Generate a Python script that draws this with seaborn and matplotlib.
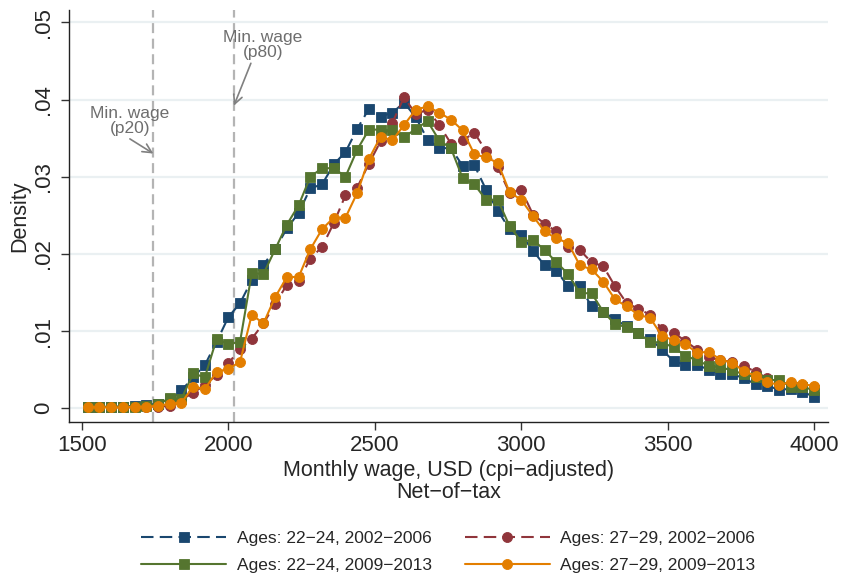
import numpy as np
import pandas as pd
import matplotlib
matplotlib.use('Agg')
import matplotlib.pyplot as plt
import seaborn as sns

# wage bins (USD, cpi-adjusted, net-of-tax)
wage = list(range(1520, 4001, 40))

# Ages 22-24, 2002-2006
young_early = [0.0002, 0.0002, 0.0002, 0.0002, 0.0003, 0.0004, 0.0006, 0.0012, 0.0023, 0.0040,
               0.0056, 0.0086, 0.0118, 0.0136, 0.0166, 0.0186, 0.0206, 0.0233, 0.0253, 0.0285,
               0.0290, 0.0316, 0.0332, 0.0362, 0.0388, 0.0378, 0.0383, 0.0396, 0.0377, 0.0348,
               0.0337, 0.0337, 0.0314, 0.0315, 0.0283, 0.0256, 0.0232, 0.0225, 0.0204, 0.0185,
               0.0178, 0.0158, 0.0158, 0.0132, 0.0125, 0.0115, 0.0106, 0.0098, 0.0090, 0.0076,
               0.0061, 0.0056, 0.0056, 0.0050, 0.0044, 0.0044, 0.0039, 0.0031, 0.0029, 0.0024,
               0.0025, 0.0021, 0.0015]

# Ages 27-29, 2002-2006
old_early = [0.0001, 0.0001, 0.0001, 0.0001, 0.0001, 0.0002, 0.0002, 0.0003, 0.0011, 0.0020,
             0.0030, 0.0043, 0.0058, 0.0077, 0.0090, 0.0110, 0.0135, 0.0160, 0.0165, 0.0194,
             0.0209, 0.0240, 0.0276, 0.0286, 0.0317, 0.0346, 0.0370, 0.0403, 0.0381, 0.0387,
             0.0367, 0.0343, 0.0347, 0.0357, 0.0333, 0.0312, 0.0279, 0.0283, 0.0251, 0.0239,
             0.0229, 0.0209, 0.0205, 0.0189, 0.0184, 0.0158, 0.0136, 0.0129, 0.0121, 0.0103,
             0.0098, 0.0087, 0.0076, 0.0066, 0.0062, 0.0060, 0.0055, 0.0047, 0.0039, 0.0033,
             0.0031, 0.0027, 0.0027]

# Ages 22-24, 2009-2013
young_late = [0.0002, 0.0002, 0.0002, 0.0002, 0.0002, 0.0003, 0.0005, 0.0013, 0.0012, 0.0045,
              0.0040, 0.0090, 0.0083, 0.0086, 0.0175, 0.0174, 0.0206, 0.0238, 0.0263, 0.0300,
              0.0311, 0.0311, 0.0300, 0.0335, 0.0361, 0.0361, 0.0360, 0.0351, 0.0362, 0.0372,
              0.0347, 0.0337, 0.0298, 0.0290, 0.0270, 0.0270, 0.0236, 0.0216, 0.0218, 0.0205,
              0.0189, 0.0174, 0.0149, 0.0149, 0.0125, 0.0109, 0.0105, 0.0097, 0.0086, 0.0085,
              0.0079, 0.0068, 0.0062, 0.0055, 0.0053, 0.0049, 0.0044, 0.0040, 0.0036, 0.0037,
              0.0028, 0.0027, 0.0024]

# Ages 27-29, 2009-2013
old_late = [0.0002, 0.0001, 0.0001, 0.0001, 0.0002, 0.0002, 0.0003, 0.0006, 0.0007, 0.0028,
            0.0025, 0.0047, 0.0051, 0.0060, 0.0121, 0.0110, 0.0144, 0.0170, 0.0170, 0.0206,
            0.0232, 0.0247, 0.0247, 0.0279, 0.0323, 0.0352, 0.0347, 0.0367, 0.0387, 0.0391,
            0.0383, 0.0374, 0.0360, 0.0329, 0.0325, 0.0318, 0.0280, 0.0270, 0.0249, 0.0229,
            0.0220, 0.0214, 0.0185, 0.0180, 0.0164, 0.0141, 0.0132, 0.0121, 0.0117, 0.0094,
            0.0088, 0.0083, 0.0072, 0.0073, 0.0063, 0.0059, 0.0048, 0.0042, 0.0034, 0.0030,
            0.0034, 0.0031, 0.0029]

labels = ['Ages: 22\u221224, 2002\u22122006', 'Ages: 27\u221229, 2002\u22122006',
          'Ages: 22\u221224, 2009\u22122013', 'Ages: 27\u221229, 2009\u22122013']
min_wage_p20 = 1743
min_wage_p80 = 2019

sns.set_style('ticks')
plt.rcParams['font.family'] = ['Liberation Sans', 'DejaVu Sans']

fig = plt.figure(figsize=(8.41, 5.76), dpi=100)
ax = fig.add_axes([0.082, 0.268, 0.9025, 0.7146])

# series: (values, colour, marker, dashed?)
series = [
    (young_early, '#1a476f', 's', True),
    (old_early, '#90353b', 'o', True),
    (young_late, '#55752f', 's', False),
    (old_late, '#e37e00', 'o', False),
]

handles = []
for (vals, col, mk, dashed), lab in zip(series, labels):
    df = pd.DataFrame({'wage': wage, 'density': vals})
    sns.lineplot(data=df, x='wage', y='density', ax=ax, color=col, marker=mk,
                 markersize=6.8 if mk == 's' else 7.2, markeredgecolor=col,
                 markeredgewidth=0.6, linewidth=1.5, errorbar=None,
                 linestyle=(0, (6, 3)) if dashed else '-', label=lab, legend=False)
    handles.append(ax.get_lines()[-1])

# minimum wage reference lines
for xv in [min_wage_p20, min_wage_p80]:
    ax.axvline(xv, color='#b4b4b4', linestyle=(0, (4.5, 2.5)), linewidth=1.6, zorder=1)

arrow = dict(arrowstyle='->', color='#808080', lw=1.2, shrinkA=0, shrinkB=0,
             mutation_scale=16)
ax.text(1664, 0.0372, 'Min. wage\n(p20)', ha='center', va='center', fontsize=12.5,
        color='#6e6e6e', linespacing=1.0)
ax.annotate('', xy=(1744, 0.0330), xytext=(1664, 0.0349), arrowprops=arrow)
ax.text(2118, 0.0471, 'Min. wage\n(p80)', ha='center', va='center', fontsize=12.5,
        color='#6e6e6e', linespacing=1.0)
ax.annotate('', xy=(2019, 0.0392), xytext=(2077, 0.0447), arrowprops=arrow)

ax.set_xlim(1456, 4047)
ax.set_ylim(-0.00174, 0.0516)
ax.set_xticks([1500, 2000, 2500, 3000, 3500, 4000])
ax.set_yticks([0, 0.01, 0.02, 0.03, 0.04, 0.05])
ax.set_yticklabels(['0', '.01', '.02', '.03', '.04', '.05'], rotation=90, va='center')
ax.grid(axis='y', color='#eaf0f2', linewidth=1.6)
ax.set_axisbelow(True)
ax.tick_params(axis='both', labelsize=16, length=6, width=1, color='#333333', direction='out')
ax.tick_params(axis='y', pad=5)
for s in ['top', 'right']:
    ax.spines[s].set_visible(False)
for s in ['left', 'bottom']:
    ax.spines[s].set_color('#222222')
    ax.spines[s].set_linewidth(1.0)

ax.set_xlabel('Monthly wage, USD (cpi\u2212adjusted)\nNet\u2212of\u2212tax', fontsize=15.5,
              linespacing=1.05, labelpad=3)
ax.set_ylabel('Density', fontsize=15.5, labelpad=2)

# row-wise legend order: early cohorts on top row, late cohorts on bottom row
order = [0, 2, 1, 3]
ax.legend([handles[i] for i in order], [labels[i] for i in order], loc='center',
          bbox_to_anchor=(0.5, -0.3165), ncol=2, frameon=False, fontsize=12.5,
          handlelength=4.9, columnspacing=1.9, labelspacing=0.7, handletextpad=0.6)

fig.savefig('out.png', dpi=100)
